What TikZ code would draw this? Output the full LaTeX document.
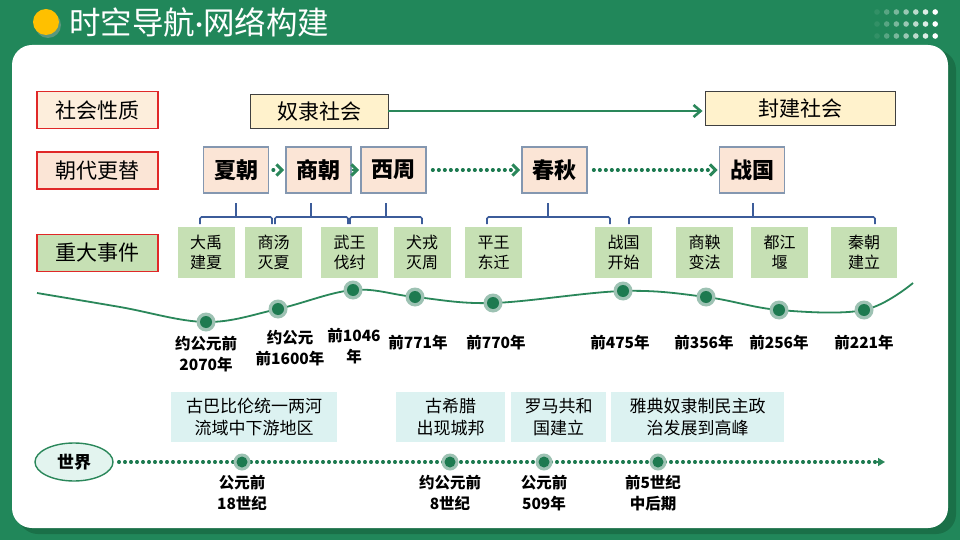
\documentclass[tikz,border=0pt]{standalone}
\usepackage{fontspec}
\setmainfont{Noto Sans CJK SC}
\newfontfamily\latinfont{Lato}
\usetikzlibrary{arrows.meta,calc,shapes.geometric}
\definecolor{bggreen}{HTML}{21875A}
\definecolor{bgdark}{HTML}{1A7048}
\definecolor{gline}{HTML}{2A875A}
\definecolor{gdot}{HTML}{1D7A50}
\definecolor{ghalo}{HTML}{9DC2B3}
\definecolor{lblred}{HTML}{E02828}
\definecolor{cream}{HTML}{FDEEDC}
\definecolor{peach}{HTML}{FBE5D6}
\definecolor{evgreen}{HTML}{C6E0B4}
\definecolor{socfill}{HTML}{FFF2CC}
\definecolor{dynborder}{HTML}{8497B0}
\definecolor{brkblue}{HTML}{3C5C9A}
\definecolor{wcyan}{HTML}{DCF2F1}
\definecolor{wellipse}{HTML}{E3F4EF}
\definecolor{sunyellow}{HTML}{FFC000}
\tikzset{
  lbl/.style={draw=lblred, line width=1.1pt, minimum width=121pt, minimum height=37pt, inner sep=0pt, font=\fontsize{21}{24}\selectfont},
  soc/.style={draw=black!75, line width=0.9pt, fill=socfill, minimum height=34pt, inner sep=0pt, font=\fontsize{21}{24}\selectfont},
  dyn/.style={draw=dynborder, line width=1.1pt, fill=peach, minimum width=65pt, minimum height=46pt, inner sep=0pt, font=\bfseries\fontsize{22}{24}\selectfont},
  ev/.style={fill=evgreen, minimum width=57pt, minimum height=51pt, inner sep=0pt, align=center, font=\fontsize{16}{20}\selectfont},
  wbox/.style={fill=wcyan, minimum height=50pt, inner sep=0pt, align=center, font=\fontsize{17}{22}\selectfont},
  date/.style={align=center, inner sep=0pt, font=\bfseries\fontsize{15.5}{21}\selectfont},
  dotline/.style={gdot, line width=3.4pt, line cap=round, dash pattern=on 0.6pt off 5.4pt},
  chevst/.style={gline, line width=3pt, line cap=butt, line join=miter},
  brk/.style={brkblue, line width=1.7pt, rounded corners=1.5pt},
  halo/.style={circle, fill=ghalo, minimum size=19pt, inner sep=0pt},
  pt/.style={circle, fill=gdot, minimum size=12pt, inner sep=0pt}
}
\newcommand{\mybrk}[3]{\draw[brk] (#1,203) -- (#1,217); \draw[brk] (#2,224) -- (#2,217) -- (#3,217) -- (#3,224);}
\newcommand{\mychev}[1]{\draw[chevst] ($(#1)+(-9,-5.5)$) -- ($(#1)+(-3.5,0)$) -- ($(#1)+(-9,5.5)$);}
\begin{document}
\begin{tikzpicture}[x=1pt,y=-1pt]
\useasboundingbox (0,0) rectangle (960,540);
% background
\fill[bggreen] (0,0) rectangle (960,540);
% panel shadow
\fill[bgdark, rounded corners=20pt] (18,50) rectangle (956,534);
\fill[white, rounded corners=20pt] (12,45) rectangle (948,528);
% title
\fill[black!30, opacity=0.4] (48,25) circle (13);
\node[circle, fill=sunyellow, minimum size=26pt, inner sep=0pt] (sun) at (46,22) {};
\node[anchor=west, text=white, inner sep=0pt, font=\fontsize{31.5}{34}\selectfont] (title) at (69,22) {时空导航{\latinfont ·}网络构建};
% dot pattern
\foreach \r in {12,24,36}{
  \foreach \i/\o in {0/0.08,1/0.25,2/0.4,3/0.55,4/0.7,5/0.85,6/1}{
    \fill[white, opacity=\o] (877+\i*9.7,\r) circle (2.8);
  }
}
% left labels
\node[lbl, fill=cream] (l1) at (97.5,110) {社会性质};
\node[lbl, fill=peach] (l2) at (97.5,170.5) {朝代更替};
\node[lbl, fill=evgreen] (l3) at (97.5,253) {重大事件};
% society
\node[soc, minimum width=138pt] (nuli) at (319,111) {奴隶社会};
\node[soc, minimum width=190pt] (fengjian) at (800,108) {封建社会};
\coordinate (socend) at ($(nuli.east -| fengjian.west)+(-4,0)$);
\draw[gline, line width=2.4pt] (nuli.east) -- ($(socend)+(-2,0)$);
\draw[chevst, line width=2.6pt] ($(socend)+(-7,-6)$) -- (socend) -- ($(socend)+(-7,6)$);
% dynasties
\node[dyn] (xia) at (236,170) {夏朝};
\node[dyn] (shang) at (318.5,170) {商朝};
\node[dyn] (xizhou) at (393.5,170) {西周};
\node[dyn] (chunqiu) at (554.5,170) {春秋};
\node[dyn] (zhanguo) at (752,170) {战国};
\draw[dotline, shorten <=4pt, shorten >=10pt] (xia.east) -- (shang.west);
\draw[chevst, line width=2.4pt, shorten >=5pt] (shang.east) -- (xizhou.west);
\draw[dotline, shorten <=6pt, shorten >=10pt] (xizhou.east) -- (chunqiu.west);
\draw[dotline, shorten <=6pt, shorten >=10pt] (chunqiu.east) -- (zhanguo.west);
\mychev{shang.west}
\mychev{xizhou.west}
\mychev{chunqiu.west}
\mychev{zhanguo.west}
% brackets
\mybrk{236}{200}{272}
\mybrk{311}{275}{348}
\mybrk{386}{350}{422}
\mybrk{548}{487}{610}
\mybrk{753}{629}{875}
% events
\node[ev] (e1) at (206,252.5) {大禹\\建夏};
\node[ev] (e2) at (273.5,252.5) {商汤\\灭夏};
\node[ev] (e3) at (349.5,252.5) {武王\\伐纣};
\node[ev] (e4) at (422,252.5) {犬戎\\灭周};
\node[ev] (e5) at (493.5,252.5) {平王\\东迁};
\node[ev] (e6) at (623.5,252.5) {战国\\开始};
\node[ev] (e7) at (704.5,252.5) {商鞅\\变法};
\node[ev] (e8) at (779.5,252.5) {都江\\堰};
\node[ev, minimum width=66pt] (e9) at (864,252.5) {秦朝\\建立};
% wave
\draw[gline, line width=1.8pt] plot[smooth, tension=0.6] coordinates {(37,293) (120,307) (206,322) (278,309) (353,290) (415,297) (493,303) (623,291) (706,297) (779,310) (864,310) (913,283)};
\foreach \n/\x/\y in {1/206/322,2/278/309,3/353/290,4/415/297,5/493/303,6/623/291,7/706/297,8/779/310,9/864/310}{
  \node[halo] (h\n) at (\x,\y) {};
  \node[pt] (p\n) at (\x,\y) {};
}
% dates
\node[date] (d1) at (206,354) {约公元前\\2070年};
\node[date] (d2) at (290,348) {约公元\\前1600年};
\node[date] (d3) at (354,346) {前1046\\年};
\node[date] (d4) at (418,343) {前771年};
\node[date] (d5) at (496,343) {前770年};
\node[date] (d6) at (620,343) {前475年};
\node[date] (d7) at (704,343) {前356年};
\node[date] (d8) at (779,343) {前256年};
\node[date] (d9) at (864,343) {前221年};
% world boxes
\node[wbox, minimum width=166pt] (w1) at (254,417) {古巴比伦统一两河\\流域中下游地区};
\node[wbox, minimum width=109pt] (w2) at (450.5,417) {古希腊\\出现城邦};
\node[wbox, minimum width=95pt] (w3) at (558.5,417) {罗马共和\\国建立};
\node[wbox, minimum width=173pt] (w4) at (697.5,417) {雅典奴隶制民主政\\治发展到高峰};
% world line
\node[ellipse, draw=gline, line width=1.4pt, fill=wellipse, minimum width=78pt, minimum height=38pt, inner sep=0pt, font=\bfseries\fontsize{17}{20}\selectfont] (world) at (74,462) {世界};
\coordinate (wend) at (885,462);
\draw[dotline, shorten <=5pt] (world.east) -- ($(wend)+(-8,0)$);
\draw[gline, -{Triangle[length=7pt,width=8pt]}, line width=1.5pt] ($(wend)+(-8,0)$) -- (wend);
\foreach \n/\x in {a/242,b/450,c/544,d/658}{
  \node[halo, minimum size=17pt] (hw\n) at (\x,462) {};
  \node[pt, minimum size=11pt] (pw\n) at (\x,462) {};
}
\node[date] (wd1) at (242,493) {公元前\\18世纪};
\node[date] (wd2) at (450,493) {约公元前\\8世纪};
\node[date] (wd3) at (544,493) {公元前\\509年};
\node[date] (wd4) at (653,493) {前5世纪\\中后期};
\end{tikzpicture}
\end{document}
